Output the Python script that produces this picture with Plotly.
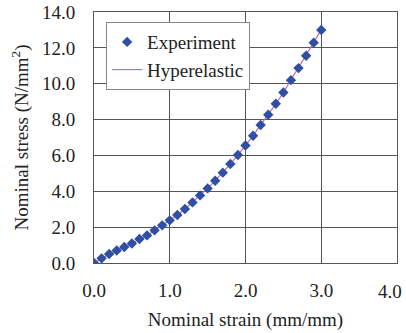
import plotly.graph_objects as go

strain = [0.0, 0.1, 0.2, 0.3, 0.4, 0.5, 0.6, 0.7, 0.8, 0.9, 1.0,
          1.1, 1.2, 1.3, 1.4, 1.5, 1.6, 1.7, 1.8, 1.9, 2.0,
          2.1, 2.2, 2.3, 2.4, 2.5, 2.6, 2.7, 2.8, 2.9, 3.0]
stress_exp = [0.0, 0.26, 0.50, 0.70, 0.89, 1.09, 1.34, 1.54, 1.82, 2.10, 2.38,
              2.68, 3.01, 3.38, 3.77, 4.16, 4.59, 5.04, 5.52, 6.02, 6.55,
              7.10, 7.70, 8.27, 8.88, 9.51, 10.20, 10.87, 11.56, 12.29, 13.00]
stress_hyper = stress_exp
x_ticks = [0.0, 1.0, 2.0, 3.0, 4.0]
y_ticks = [0.0, 2.0, 4.0, 6.0, 8.0, 10.0, 12.0, 14.0]

font = "Liberation Serif"
fsize = 19
tcol = "#222222"

fig = go.Figure()
fig.add_trace(go.Scatter(x=strain, y=stress_hyper, mode="lines", name="Hyperelastic",
                         line=dict(color="#C868AE", width=1.2)))
fig.add_trace(go.Scatter(x=strain, y=stress_exp, mode="markers", name="Experiment",
                         marker=dict(symbol="diamond", size=8, color="#2E4FA3")))

axis_common = dict(showline=True, linecolor="#555555", linewidth=1, mirror=True,
                   showgrid=True, gridcolor="#555555", gridwidth=1, zeroline=False,
                   ticks="", tickmode="array", automargin=False,
                   tickfont=dict(family=font, size=fsize, color=tcol))

# last x label is drawn right-aligned at its tick so it stays inside the picture
x_ticktext = [f"{v:.1f}" for v in x_ticks[:-1]] + [""]
fig.update_xaxes(range=[0, 4], tickvals=x_ticks, ticktext=x_ticktext,
                 title=dict(text="Nominal strain (mm/mm)",
                            font=dict(family=font, size=fsize, color=tcol), standoff=12),
                 ticklabelstandoff=10, **axis_common)
fig.update_yaxes(range=[0, 14], tickvals=y_ticks, ticktext=[f"{v:.1f}" for v in y_ticks],
                 title=dict(text="Nominal stress (N/mm<sup>2</sup>)",
                            font=dict(family=font, size=fsize, color=tcol), standoff=8),
                 ticklabelstandoff=14, **axis_common)

fig.add_annotation(x=x_ticks[-1], xref="x", y=0, yref="paper",
                   text=f"{x_ticks[-1]:.1f}", showarrow=False,
                   xanchor="right", yanchor="middle", xshift=7, yshift=-28,
                   font=dict(family=font, size=fsize, color=tcol))

fig.update_layout(
    width=406, height=333,
    margin=dict(l=94, r=9, t=12, b=70),
    paper_bgcolor="white", plot_bgcolor="white",
    showlegend=True,
    legend=dict(x=0.04, y=0.96, xanchor="left", yanchor="top",
                bgcolor="white", bordercolor="#888888", borderwidth=1,
                font=dict(family=font, size=fsize, color=tcol),
                traceorder="reversed", itemwidth=30, tracegroupgap=0),
)

fig.write_html("out.html")
